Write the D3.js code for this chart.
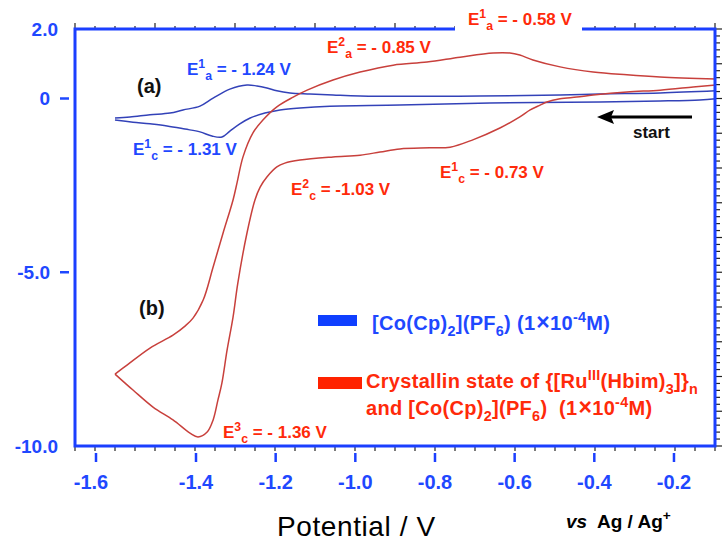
<!DOCTYPE html>
<html><head><meta charset="utf-8">
<script src="https://cdn.jsdelivr.net/npm/d3@7"></script>
<style>html,body{margin:0;padding:0;background:#fff;} svg{display:block;font-family:"Liberation Sans",Arial,Helvetica,sans-serif;} text{white-space:pre;}</style>
</head><body><svg id="chart" width="723" height="541"></svg>
<script>
// ---------------- data ----------------
// (a) [Co(Cp)2](PF6): cathodic scan (right -> left) and anodic scan (left -> right)
const blueCathodicV = [-0.095,-0.135,-0.235,-0.386,-0.662,-0.888,-1.064,-1.139,-1.189,-1.227,-1.264,-1.290,-1.315,-1.335,-1.360,-1.390,-1.422,-1.458,-1.492,-1.526,-1.562];
const blueCathodicI = [-0.01,-0.04,-0.07,-0.10,-0.13,-0.19,-0.22,-0.27,-0.33,-0.42,-0.56,-0.73,-0.94,-1.11,-1.08,-0.96,-0.88,-0.79,-0.73,-0.68,-0.62];
const blueAnodicV = [-1.562,-1.532,-1.492,-1.452,-1.426,-1.390,-1.357,-1.315,-1.272,-1.247,-1.222,-1.197,-1.164,-1.114,-1.056,-0.988,-0.687,-0.486,-0.386,-0.235,-0.095];
const blueAnodicI = [-0.56,-0.53,-0.47,-0.42,-0.33,-0.22,0.01,0.27,0.39,0.36,0.30,0.22,0.16,0.13,0.10,0.07,0.07,0.10,0.13,0.16,0.22];
// (b) crystalline {[Ru(III)(Hbim)3]}n + [Co(Cp)2](PF6)
const redCathodicV = [-0.095,-0.152,-0.235,-0.318,-0.403,-0.444,-0.486,-0.519,-0.536,-0.561,-0.587,-0.637,-0.705,-0.762,-0.813,-0.888,-0.938,-0.988,-1.056,-1.139,-1.177,-1.197,-1.222,-1.239,-1.252,-1.272,-1.295,-1.307,-1.322,-1.335,-1.345,-1.357,-1.372,-1.395,-1.412,-1.446,-1.486,-1.526,-1.562];
const redCathodicI = [0.39,0.33,0.24,0.19,0.10,0.04,-0.01,-0.10,-0.19,-0.33,-0.53,-0.85,-1.19,-1.40,-1.42,-1.45,-1.54,-1.63,-1.68,-1.77,-1.86,-1.97,-2.26,-2.55,-2.92,-3.87,-5.31,-6.29,-7.24,-8.19,-8.68,-9.25,-9.60,-9.74,-9.63,-9.25,-8.88,-8.39,-7.93];
const redAnodicV = [-1.562,-1.538,-1.492,-1.446,-1.422,-1.406,-1.382,-1.357,-1.332,-1.307,-1.297,-1.282,-1.257,-1.232,-1.197,-1.156,-1.121,-1.056,-0.988,-0.905,-0.820,-0.737,-0.654,-0.612,-0.587,-0.554,-0.486,-0.403,-0.318,-0.235,-0.095];
const redAnodicI = [-7.93,-7.67,-7.18,-6.81,-6.55,-6.32,-5.80,-4.85,-3.87,-2.92,-2.43,-1.68,-0.99,-0.62,-0.24,0.04,0.24,0.53,0.76,0.96,1.05,1.19,1.31,1.31,1.25,1.11,0.91,0.76,0.68,0.62,0.56];

const xTickValues = [-1.6,-1.4,-1.2,-1.0,-0.8,-0.6,-0.4,-0.2];
const xTickLabels = ["-1.6","-1.4","-1.2","-1.0","-0.8","-0.6","-0.4","-0.2"];
const yTickValues = [2.0, 0, -5.0, -10.0];
const yTickLabels = ["2.0","0","-5.0","-10.0"];
const yTickDash   = [false, true, true, false];
// axis breakpoints of the drawn potential axis (the figure's axis is not uniform left of -1.4 V)
const xDomainBreaks = [-1.642, -1.4, -0.097];
const yDomain = [-10, 2];

// ---------------- layout ----------------
const svg = d3.select("#chart");
const F = {left:75, right:715, top:29, bottom:446};
const x = d3.scaleLinear().domain(xDomainBreaks).range([F.left, 196, F.right]);
const y = d3.scaleLinear().domain(yDomain).range([F.bottom, F.top]);
const instr = d3.scaleLinear().domain([0, 32]).range([F.left, F.right]); // instrument tick grid

const AXIS_BLUE = "#1b3fff", LABEL_BLUE = "#1f48ff", LABEL_RED = "#ff2a0a";
const CURVE_BLUE = "#3342b8", CURVE_RED = "#c8403c";

// instrument ticks: top (up), bottom (down), right (outward)
const gt = svg.append("g").attr("stroke","#222").attr("stroke-width",1.2);
d3.range(0,33).forEach(i=>{
  gt.append("line").attr("x1",instr(i)).attr("x2",instr(i)).attr("y1",F.top).attr("y2",F.top-(i%4===0?6:3));
  gt.append("line").attr("x1",instr(i)).attr("x2",instr(i)).attr("y1",F.bottom).attr("y2",F.bottom+5);
});
d3.range(0,61).forEach(i=>{
  const v = yDomain[0] + i*0.2;
  gt.append("line").attr("x1",F.right).attr("x2",F.right+(i%5===0?7:5)).attr("y1",y(v)).attr("y2",y(v));
});

// curves
const line = d3.line().x(d=>x(d[0])).y(d=>y(d[1])).curve(d3.curveCatmullRom.alpha(0.5));
const zip = (a,b)=>a.map((v,i)=>[v,b[i]]);
const gc = svg.append("g").attr("fill","none").attr("stroke-width",1.5).attr("stroke-linejoin","round");
gc.append("path").attr("d",line(zip(blueCathodicV,blueCathodicI))).attr("stroke",CURVE_BLUE);
gc.append("path").attr("d",line(zip(blueAnodicV,blueAnodicI))).attr("stroke",CURVE_BLUE);
gc.append("path").attr("d",line(zip(redCathodicV,redCathodicI))).attr("stroke",CURVE_RED);
gc.append("path").attr("d",line(zip(redAnodicV,redAnodicI))).attr("stroke",CURVE_RED);

// frame
svg.append("rect").attr("x",F.left).attr("y",F.top).attr("width",F.right-F.left).attr("height",F.bottom-F.top)
  .attr("fill","none").attr("stroke",AXIS_BLUE).attr("stroke-width",3);

// x axis labels with blue ticks
const gx = svg.append("g");
xTickValues.forEach((v,i)=>{
  gx.append("line").attr("x1",x(v)).attr("x2",x(v)).attr("y1",453).attr("y2",462).attr("stroke",AXIS_BLUE).attr("stroke-width",2.5);
  gx.append("text").attr("x",x(v) - (i===0?5:0)).attr("y",489).attr("text-anchor","middle").attr("fill",LABEL_BLUE)
    .attr("font-size",20).attr("font-weight","bold").text(xTickLabels[i]);
});
// y axis labels
const gy = svg.append("g");
yTickValues.forEach((v,i)=>{
  const xe = yTickDash[i] ? 50 : 58;
  gy.append("text").attr("x",xe).attr("y",y(v)).attr("dy","0.36em").attr("text-anchor","end").attr("fill",LABEL_BLUE)
    .attr("font-size",19).attr("font-weight","bold").text(yTickLabels[i]);
  if (yTickDash[i]) gy.append("line").attr("x1",60).attr("x2",69).attr("y1",y(v)).attr("y2",y(v)).attr("stroke",LABEL_BLUE).attr("stroke-width",2.5);
});

// rich text helper
function rich(xp, yp, parts, color, fs, ls){
  const t = svg.append("text").attr("x",xp).attr("y",yp).attr("fill",color).attr("font-size",fs).attr("font-weight","bold");
  if (ls) t.attr("letter-spacing", ls);
  let cur = 0;
  parts.forEach(p=>{
    const [s,type] = Array.isArray(p)?p:[p];
    if (type==="it") { t.append("tspan").attr("font-style","italic").text(s); return; }
    if (type==="x") { t.append("tspan").attr("font-size",fs*1.15).attr("dx",1).text(s); return; }
    const target = type==="sup" ? -0.4*fs : type==="sub" ? 0.3*fs : 0;
    t.append("tspan").attr("dy", target-cur).attr("font-size", type ? fs*0.72 : fs).text(s);
    cur = target;
  });
  return t;
}

// top label with white background breaking the frame
svg.append("rect").attr("x",455).attr("y",0).attr("width",127).attr("height",33).attr("fill","#fff");
rich(468, 25, ["E",["1","sup"],["a","sub"]," = - 0.58 V"], LABEL_RED, 17);

rich(187, 75, ["E",["1","sup"],["a","sub"]," = - 1.24 V"], LABEL_BLUE, 17);
rich(133, 155, ["E",["1","sup"],["c","sub"]," = - 1.31 V"], LABEL_BLUE, 17);
rich(327, 53, ["E",["2","sup"],["a","sub"]," = - 0.85 V"], LABEL_RED, 17);
rich(291, 195, ["E",["2","sup"],["c","sub"]," = -1.03 V"], LABEL_RED, 17);
rich(440, 178, ["E",["1","sup"],["c","sub"]," = - 0.73 V"], LABEL_RED, 17);
rich(223, 438, ["E",["3","sup"],["c","sub"]," = - 1.36 V"], LABEL_RED, 17);

rich(137, 93, ["(a)"], "#111", 20);
rich(139, 315, ["(b)"], "#111", 20);
rich(633, 138, ["start"], "#111", 17);

// start arrow
svg.append("line").attr("x1",692).attr("x2",610).attr("y1",117).attr("y2",117).attr("stroke","#000").attr("stroke-width",3);
svg.append("path").attr("d",d3.line()([[597,117],[614,110],[611,117],[614,124]])+"Z").attr("fill","#000");

// legend
svg.append("rect").attr("x",318).attr("y",315).attr("width",39).attr("height",11).attr("fill","#0f3fff");
rich(372, 330, ["[Co(Cp)",["2","sub"],"](PF",["6","sub"],") (1",["×","x"],"10",["-4","sup"],"M)"], LABEL_BLUE, 20, 0.3);
svg.append("rect").attr("x",318).attr("y",377).attr("width",44).attr("height",12).attr("fill","#ff2200");
rich(366, 388, ["Crystallin state of {[Ru",["III","sup"],"(Hbim)",["3","sub"],"]}",["n","sub"]], LABEL_RED, 20, 0.3);
rich(366, 415, ["and [Co(Cp)",["2","sub"],"](PF",["6","sub"],")  (1",["×","x"],"10",["-4","sup"],"M)"], LABEL_RED, 20, 0.3);

// axis title
svg.append("text").attr("x",277).attr("y",536).attr("font-size",28).attr("letter-spacing",0.6).attr("fill","#000").text("Potential / V");
rich(566, 528, [["vs","it"],"  Ag / Ag",["+","sup"]], "#000", 19);
</script></body></html>
